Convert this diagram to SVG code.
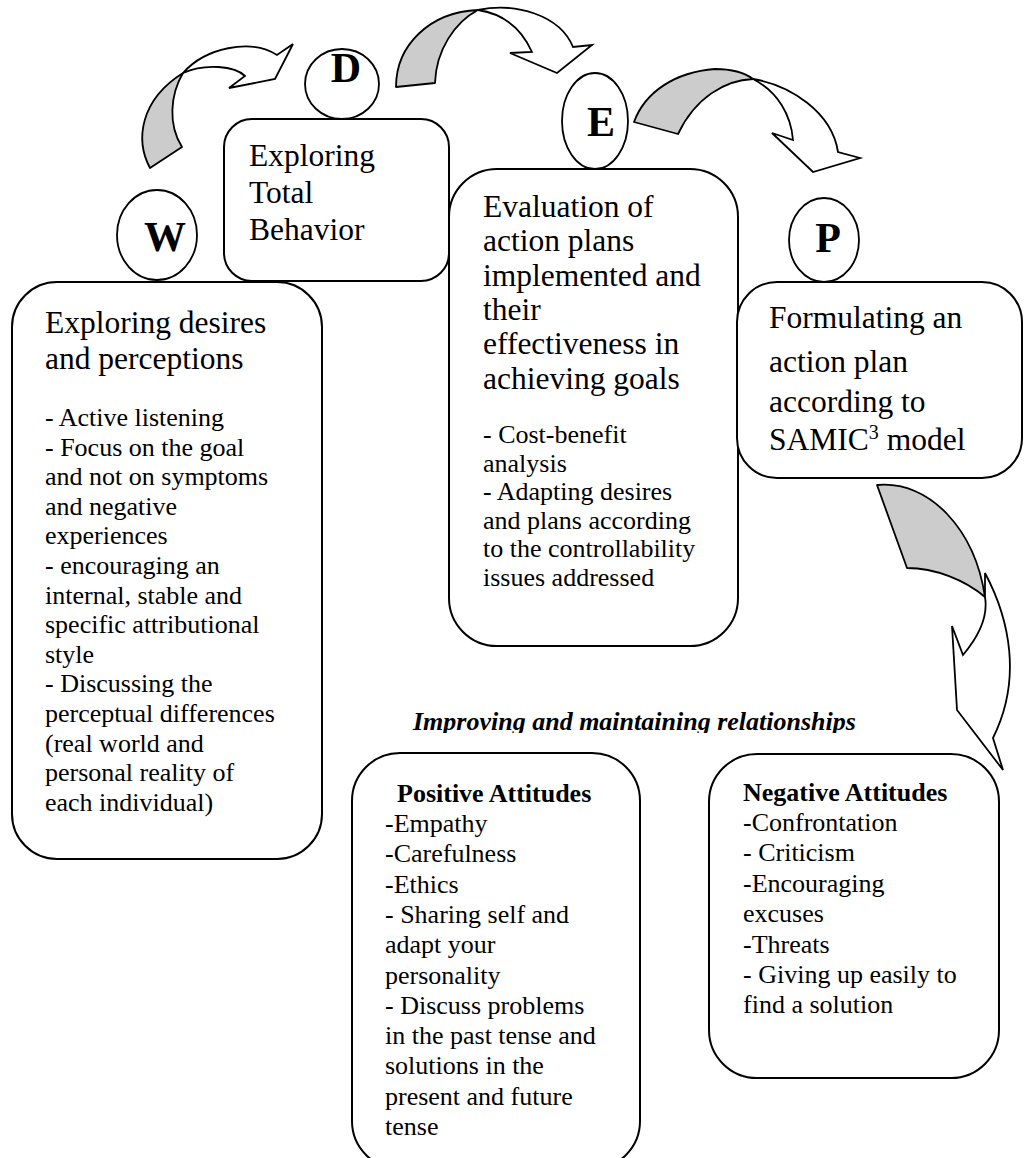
<svg xmlns="http://www.w3.org/2000/svg" width="1024" height="1158" viewBox="0 0 1024 1158">
<style>
.box{fill:#fff;stroke:#000;stroke-width:2}
.circ{fill:#fff;stroke:#000;stroke-width:1.8}
.gray{fill:#cccccc;stroke:#000;stroke-width:1.8;stroke-linejoin:round}
.white{fill:#fff;stroke:#000;stroke-width:1.8;stroke-linejoin:miter}
text{font-family:"Liberation Serif","Times New Roman",serif;fill:#000}
.h{font-size:31.5px}
.b{font-size:26px}
.l{font-size:42px;font-weight:bold;text-anchor:middle}
.bi{font-size:26px;font-weight:bold;font-style:italic}
.bt{font-weight:bold}
</style>
<defs>
<clipPath id="titleclip"><rect x="0" y="690" width="1024" height="43"/></clipPath>
</defs>
<rect width="1024" height="1158" fill="#fff"/>

<g id="connectors">
  <g id="arrow-W-D">
    <path class="gray" d="M150,168 C135,140 140,100 183,73 C170,95 168,125 182,147 Z"/>
    <path class="white" d="M183,73 C205,48 250,38 277,55 L293,44 L275,79 L229,88 L245,76 C235,66 205,63 183,73 Z"/>
  </g>
  <g id="arrow-D-E">
    <path class="gray" d="M396,87 C396,45 430,12 478,10 C455,22 436,50 435,83 Z"/>
    <path class="white" d="M478,10 C515,2 560,15 573,47 L592,45 L557,73 L510,53 L532,52 C522,30 505,14 478,10 Z"/>
  </g>
  <g id="arrow-E-P">
    <path class="gray" d="M634,122 C645,92 675,72 715,69 C735,69 745,73 753,79 C725,80 695,98 678,134 Z"/>
    <path class="white" d="M753,79 C790,85 832,112 838,152 L860,158 L813,172 L772,133 L793,140 C791,115 778,92 753,79 Z"/>
  </g>
  <g id="arrow-P-N">
    <path class="gray" d="M877,485 C930,480 975,530 985,597 C965,580 935,568 907,568 Z"/>
    <path class="white" d="M985,573 C1010,620 1022,680 993,738 L1003,770 L957,710 L952,626 L963,655 C980,635 988,615 985,597 Z"/>
  </g>
</g>

<g id="node-D-box">
  <rect class="box" x="224" y="119" width="225" height="162" rx="28" ry="28"/>
  <text class="h" x="249" y="166">Exploring</text>
  <text class="h" x="249" y="203">Total</text>
  <text class="h" x="249" y="240">Behavior</text>
</g>

<g id="node-W-box">
  <rect class="box" x="12" y="282" width="310" height="577" rx="45" ry="45"/>
  <text class="h" x="45" y="333">Exploring desires</text>
  <text class="h" x="45" y="369">and perceptions</text>
  <text class="b" x="45" y="426">- Active listening</text>
  <text class="b" x="45" y="455.6">- Focus on the goal</text>
  <text class="b" x="45" y="485.2">and not on symptoms</text>
  <text class="b" x="45" y="514.8">and negative</text>
  <text class="b" x="45" y="544.4">experiences</text>
  <text class="b" x="45" y="574">- encouraging an</text>
  <text class="b" x="45" y="603.6">internal, stable and</text>
  <text class="b" x="45" y="633.2">specific attributional</text>
  <text class="b" x="45" y="662.8">style</text>
  <text class="b" x="45" y="692.4">- Discussing the</text>
  <text class="b" x="45" y="722">perceptual differences</text>
  <text class="b" x="45" y="751.6">(real world and</text>
  <text class="b" x="45" y="781.2">personal reality of</text>
  <text class="b" x="45" y="810.8">each individual)</text>
</g>

<g id="node-E-box">
  <rect class="box" x="449" y="169" width="289" height="477" rx="48" ry="48"/>
  <text class="h" x="483" y="217">Evaluation of</text>
  <text class="h" x="483" y="251.3">action plans</text>
  <text class="h" x="483" y="285.6">implemented and</text>
  <text class="h" x="483" y="319.9">their</text>
  <text class="h" x="483" y="354.2">effectiveness in</text>
  <text class="h" x="483" y="388.5">achieving goals</text>
  <text class="b" x="483" y="443">- Cost-benefit</text>
  <text class="b" x="483" y="471.6">analysis</text>
  <text class="b" x="483" y="500.2">- Adapting desires</text>
  <text class="b" x="483" y="528.8">and plans according</text>
  <text class="b" x="483" y="557.4">to the controllability</text>
  <text class="b" x="483" y="586">issues addressed</text>
</g>

<g id="node-P-box">
  <rect class="box" x="737" y="282" width="285" height="196" rx="40" ry="40"/>
  <text class="h" x="769" y="328">Formulating an</text>
  <text class="h" x="769" y="372">action plan</text>
  <text class="h" x="769" y="412">according to</text>
  <text class="h" x="769" y="450">SAMIC<tspan font-size="20" dy="-11">3</tspan><tspan dy="11"> model</tspan></text>
</g>

<g id="node-W">
  <ellipse class="circ" cx="157" cy="235" rx="40" ry="45"/>
  <text class="l" x="165" y="251">W</text>
</g>
<g id="node-D">
  <ellipse class="circ" cx="342" cy="84" rx="37" ry="35"/>
  <text class="l" x="346" y="82">D</text>
</g>
<g id="node-E">
  <ellipse class="circ" cx="595" cy="121" rx="33" ry="48"/>
  <text class="l" x="601" y="136">E</text>
</g>
<g id="node-P">
  <ellipse class="circ" cx="824" cy="240" rx="35" ry="42"/>
  <text class="l" x="828" y="252">P</text>
</g>

<g id="title" clip-path="url(#titleclip)">
  <text class="bi" x="413" y="730">Improving and maintaining relationships</text>
</g>

<g id="node-positive">
  <rect class="box" x="352" y="753" width="288" height="416" rx="48" ry="48"/>
  <text class="b bt" x="397" y="802">Positive Attitudes</text>
  <text class="b" x="385" y="832">-Empathy</text>
  <text class="b" x="385" y="862.3">-Carefulness</text>
  <text class="b" x="385" y="892.6">-Ethics</text>
  <text class="b" x="385" y="922.9">- Sharing self and</text>
  <text class="b" x="385" y="953.2">adapt your</text>
  <text class="b" x="385" y="983.5">personality</text>
  <text class="b" x="385" y="1013.8">- Discuss problems</text>
  <text class="b" x="385" y="1044.1">in the past tense and</text>
  <text class="b" x="385" y="1074.4">solutions in the</text>
  <text class="b" x="385" y="1104.7">present and future</text>
  <text class="b" x="385" y="1135">tense</text>
</g>

<g id="node-negative">
  <rect class="box" x="709" y="754" width="290" height="324" rx="48" ry="48"/>
  <text class="b bt" x="743" y="801">Negative Attitudes</text>
  <text class="b" x="743" y="831">-Confrontation</text>
  <text class="b" x="743" y="861.4">- Criticism</text>
  <text class="b" x="743" y="891.8">-Encouraging</text>
  <text class="b" x="743" y="922.2">excuses</text>
  <text class="b" x="743" y="952.6">-Threats</text>
  <text class="b" x="743" y="983">- Giving up easily to</text>
  <text class="b" x="743" y="1013.4">find a solution</text>
</g>
</svg>
